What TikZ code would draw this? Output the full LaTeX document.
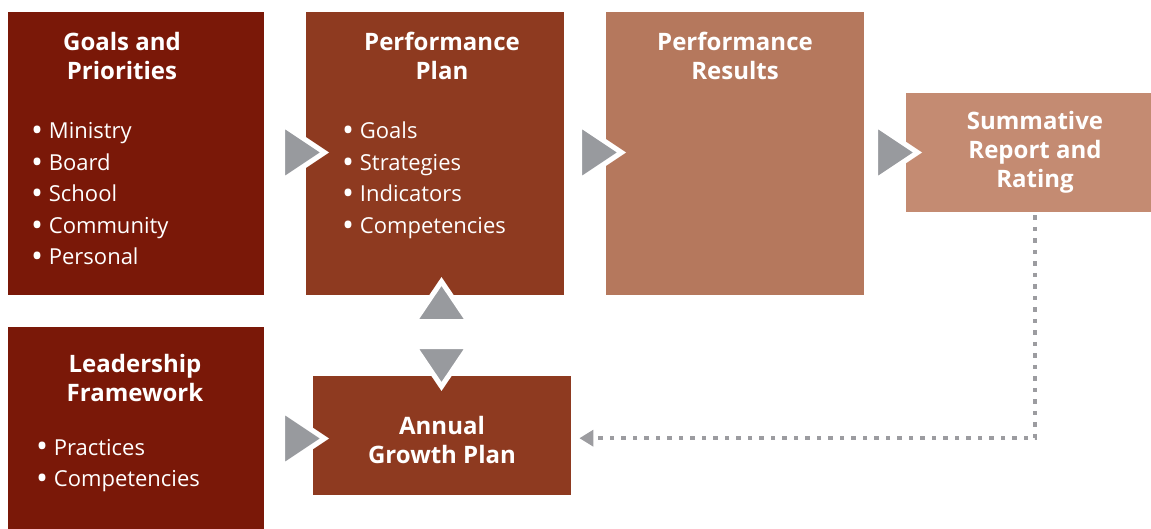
\documentclass[tikz,border=0pt]{standalone}
\usepackage{fontspec}
\usepackage{graphicx}
\setmainfont{Open Sans}
\usetikzlibrary{arrows.meta}
\definecolor{deepred}{RGB}{122,24,8}
\definecolor{rust}{RGB}{142,58,32}
\definecolor{clay}{RGB}{181,120,93}
\definecolor{sand}{RGB}{196,139,114}
\definecolor{arrowgray}{RGB}{152,154,158}
\definecolor{dotgray}{RGB}{156,156,160}
\newcommand{\blt}{\raisebox{-0.13em}{\scalebox{1.45}{•}}}
\tikzset{
  box/.style={rectangle, inner sep=0pt, anchor=north west},
  title/.style={text=white, font=\bfseries\fontsize{24}{29}\selectfont, align=center, inner sep=0pt, anchor=north},
  item/.style={text=white, font=\fontsize{22}{26}\selectfont, inner sep=0pt, anchor=base west},
  tri/.style={fill=arrowgray, draw=white, line width=5pt, line join=miter},
  dotline/.style={dotgray, line width=4.5pt, dash pattern=on 4.5pt off 7pt, -{Triangle[length=14pt,width=16pt]}}
}
\begin{document}
\begin{tikzpicture}[x=1pt,y=-1pt]
	\useasboundingbox (0,0) rectangle (1151,529);
	% boxes
	\node[box, fill=deepred, minimum width=256pt, minimum height=283pt] (goals) at (8,12) {};
	\node[box, fill=rust, minimum width=258pt, minimum height=283pt] (plan) at (306,12) {};
	\node[box, fill=clay, minimum width=258pt, minimum height=283pt] (results) at (606,12) {};
	\node[box, fill=sand, minimum width=245pt, minimum height=119pt] (summ) at (906,93) {};
	\node[box, fill=deepred, minimum width=256pt, minimum height=202pt] (lead) at (8,327) {};
	\node[box, fill=rust, minimum width=258pt, minimum height=119pt] (agp) at (313,376) {};
	% titles
	\node[title] (goalsT) at (122,32) {Goals and\\Priorities};
	\node[title] (planT) at (442,32) {Performance\\Plan};
	\node[title] (resultsT) at (735,32) {Performance\\Results};
	\node[title] (summT) at (1035,111.5) {Summative\\Report and\\Rating};
	\node[title] (leadT) at (135,354) {Leadership\\Framework};
	\node[title] (agpT) at (442,416) {Annual\\Growth Plan};
	% bullet lists
	\foreach \w [count=\i from 0] in {Ministry,Board,School,Community,Personal}
		\node[item] (gi\i) at (31,{139+31.5*\i}) {\blt\ \w};
	\foreach \w [count=\i from 0] in {Goals,Strategies,Indicators,Competencies}
		\node[item] (pi\i) at (342,{139+31.5*\i}) {\blt\ \w};
	\foreach \w [count=\i from 0] in {Practices,Competencies}
		\node[item] (li\i) at (36,{455+31.5*\i}) {\blt\ \w};
	% gray arrow heads
	\filldraw[tri] (282.5,124.5) -- (324.5,152.5) -- (282.5,180.5) -- cycle;
	\filldraw[tri] (579.5,124.5) -- (621.5,152.5) -- (579.5,180.5) -- cycle;
	\filldraw[tri] (875.5,124.5) -- (917.5,152.5) -- (875.5,180.5) -- cycle;
	\filldraw[tri] (282.5,410.5) -- (324.5,438.5) -- (282.5,466.5) -- cycle;
	\filldraw[tri] (414.5,321.5) -- (441.5,281.5) -- (468.5,321.5) -- cycle;
	\filldraw[tri] (414.5,346.5) -- (441.5,386.5) -- (468.5,346.5) -- cycle;
	% feedback line
	\draw[dotline] ([xshift=6.5pt,yshift=-3pt]summ.south) |- ([xshift=8pt,yshift=-2.5pt]agp.east);
\end{tikzpicture}
\end{document}
